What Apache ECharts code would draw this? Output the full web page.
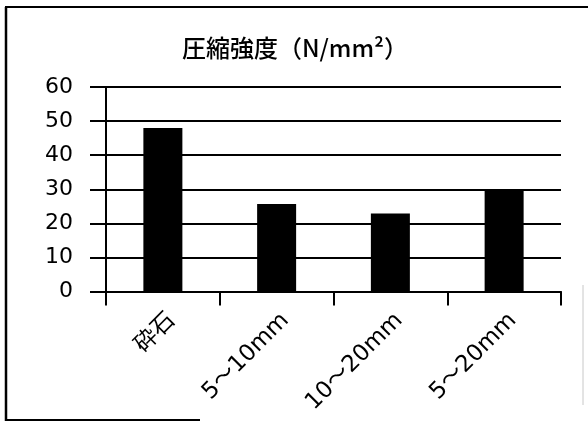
<!DOCTYPE html>
<html>
<head>
<meta charset="utf-8">
<script src="https://cdn.jsdelivr.net/npm/echarts@6/dist/echarts.min.js"></script>
<style>
  html, body { margin: 0; padding: 0; background: #ffffff; }
  #chart { width: 588px; height: 423px; }
</style>
</head>
<body>
<div id="chart"></div>
<script>
// Aggregate types and their compressive strength
const categories = ['砕石', '5～10mm', '10～20mm', '5～20mm'];
const strengthValues = [48, 25.7, 22.9, 29.8];
const titleText = '圧縮強度（N/mm²）';
const yMin = 0;
const yMax = 60;
const yStep = 10;

const chart = echarts.init(document.getElementById('chart'), null, { renderer: 'canvas' });

const ink = '#000000';
const latinFont = 'DejaVu Sans, Liberation Sans, Noto Sans CJK JP, sans-serif';

chart.setOption({
  animation: false,
  backgroundColor: '#ffffff',
  title: {
    text: titleText,
    left: 290,
    top: 31,
    textAlign: 'center',
    textStyle: {
      color: ink,
      fontSize: 24,
      fontWeight: 500,
      fontFamily: 'Noto Sans CJK JP, sans-serif'
    }
  },
  grid: {
    left: 106,
    right: 27,
    top: 87,
    bottom: 131.5,
    containLabel: false
  },
  xAxis: {
    type: 'category',
    data: categories,
    boundaryGap: true,
    axisLine: { show: true, lineStyle: { color: ink, width: 2 } },
    axisTick: { show: true, inside: false, length: 14, alignWithLabel: false, lineStyle: { color: ink, width: 2 } },
    axisLabel: {
      interval: 0,
      rotate: 45,
      margin: 18,
      align: 'right',
      verticalAlign: 'top',
      padding: [0, -1, 0, 0],
      color: ink,
      fontSize: 23,
      fontFamily: latinFont
    },
    splitLine: { show: false }
  },
  yAxis: {
    type: 'value',
    min: yMin,
    max: yMax,
    interval: yStep,
    axisLine: { show: true, lineStyle: { color: ink, width: 2 } },
    axisTick: { show: true, inside: false, length: 16, lineStyle: { color: ink, width: 2 } },
    axisLabel: {
      margin: 33,
      color: ink,
      fontSize: 22,
      fontFamily: latinFont
    },
    splitLine: { show: true, lineStyle: { color: ink, width: 2 } }
  },
  series: [{
    type: 'bar',
    data: strengthValues,
    barWidth: 39,
    itemStyle: { color: ink },
    label: { show: false }
  }],
  graphic: [
    // frame around the chart area
    { type: 'line', shape: { x1: 5, y1: 7, x2: 588, y2: 7 }, style: { stroke: ink, lineWidth: 2 }, silent: true },
    { type: 'line', shape: { x1: 6, y1: 7, x2: 6, y2: 421 }, style: { stroke: ink, lineWidth: 2.5 }, silent: true },
    { type: 'line', shape: { x1: 5, y1: 420, x2: 200, y2: 420 }, style: { stroke: ink, lineWidth: 2 }, silent: true },
    { type: 'line', shape: { x1: 583, y1: 285, x2: 583, y2: 405 }, style: { stroke: '#c8c8c8', lineWidth: 1 }, silent: true }
  ]
});
</script>
</body>
</html>
